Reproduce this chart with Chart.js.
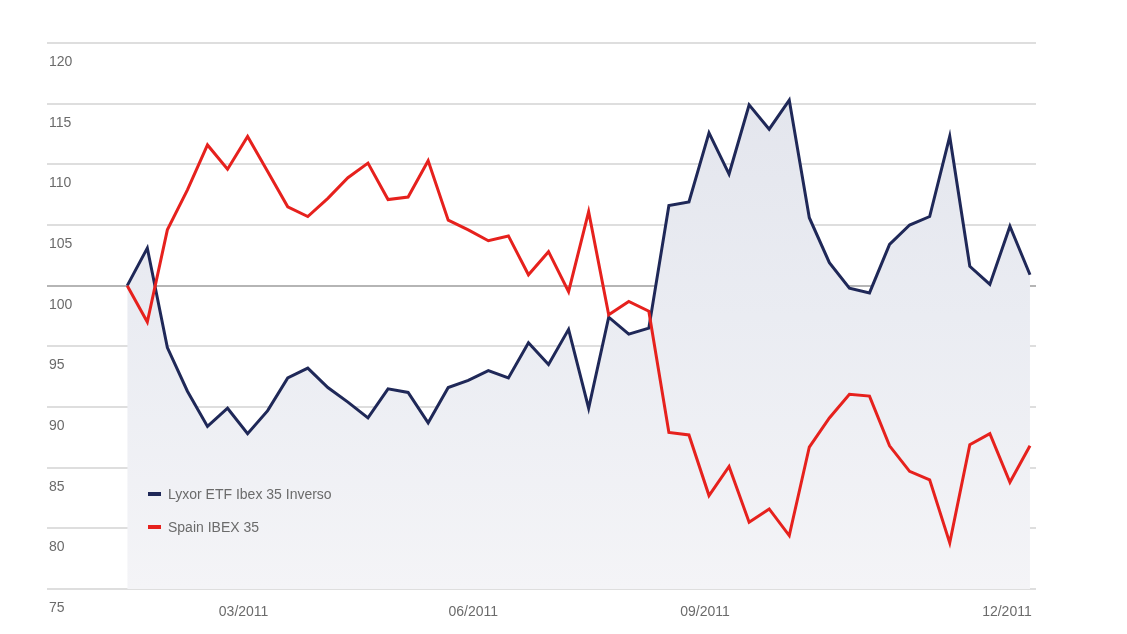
<!DOCTYPE html>
<html>
<head>
<meta charset="utf-8">
<script src="https://cdn.jsdelivr.net/npm/chart.js@4.4.1/dist/chart.umd.min.js"></script>
<style>
  html, body { margin: 0; padding: 0; background: #ffffff; }
  #wrap { width: 1127px; height: 634px; }
</style>
</head>
<body>
<div id="wrap"><canvas id="c" width="1127" height="634"></canvas></div>
<script>
// Observation number (roughly weekly, Jan–Dec 2011)
const observations = [0,1,2,3,4,5,6,7,8,9,10,11,12,13,14,15,16,17,18,19,20,21,22,23,24,25,26,27,28,29,30,31,32,33,34,35,36,37,38,39,40,41,42,43,44,45];

// Lyxor ETF Ibex 35 Inverso (rebased to 100)
const lyxorInverso = [100, 103.1, 94.9, 91.3, 88.4, 89.9, 87.8, 89.7, 92.4, 93.2,
  91.6, 90.4, 89.1, 91.5, 91.2, 88.7, 91.6, 92.2, 93.0, 92.4,
  95.3, 93.5, 96.4, 89.9, 97.4, 96.0, 96.5, 106.6, 106.9, 112.6,
  109.2, 114.9, 112.9, 115.3, 105.6, 101.9, 99.8, 99.4, 103.4, 105.0,
  105.7, 112.3, 101.6, 100.1, 104.9, 100.9];

// Spain IBEX 35 (rebased to 100)
const spainIbex = [100, 97.0, 104.6, 107.9, 111.6, 109.6, 112.3, 109.4, 106.5, 105.7,
  107.2, 108.9, 110.1, 107.1, 107.3, 110.3, 105.4, 104.6, 103.7, 104.1,
  100.9, 102.8, 99.5, 106.1, 97.6, 98.7, 97.9, 87.9, 87.7, 82.7,
  85.1, 80.5, 81.6, 79.4, 86.7, 89.1, 91.05, 90.9, 86.8, 84.7,
  84.0, 78.8, 86.9, 87.8, 83.8, 86.8];

// X-axis tick labels and where they sit (in observation units)
const xTickLabels = ['03/2011', '06/2011', '09/2011', '12/2011'];
const xTickAt = [5.8, 17.25, 28.8, 43.85];

// Y-axis range
const yMin = 75, yMax = 120, yStep = 5;

// Legend order (top to bottom)
const seriesNames = ['Lyxor ETF Ibex 35 Inverso', 'Spain IBEX 35'];

const NAVY = '#1f2858';
const RED = '#e6211d';
const FONT = '"Liberation Sans", Arial, sans-serif';

const toPoints = (vals) => vals.map((v, i) => ({ x: observations[i], y: v }));

const legendPlugin = {
  id: 'insideLegend',
  afterDraw(chart) {
    const { ctx, chartArea } = chart;
    const x0 = chartArea.left + 101;
    const rows = [chartArea.bottom - 95, chartArea.bottom - 62];
    ctx.save();
    ctx.font = '14px ' + FONT;
    ctx.textBaseline = 'middle';
    ctx.textAlign = 'left';
    seriesNames.forEach((name, i) => {
      const ds = chart.data.datasets.find((d) => d.label === name);
      const y = rows[i];
      ctx.fillStyle = ds.borderColor;
      ctx.fillRect(x0, y - 2, 13, 4);
      ctx.fillStyle = '#6b6b6b';
      ctx.fillText(ds.label, x0 + 20, y + 1);
    });
    ctx.restore();
  }
};

const ctx = document.getElementById('c').getContext('2d');
new Chart(ctx, {
  type: 'line',
  data: {
    datasets: [
      {
        label: seriesNames[1],
        data: toPoints(spainIbex),
        borderColor: RED,
        borderWidth: 3,
        pointRadius: 0,
        tension: 0,
        fill: false
      },
      {
        label: seriesNames[0],
        data: toPoints(lyxorInverso),
        borderColor: NAVY,
        borderWidth: 3,
        pointRadius: 0,
        tension: 0,
        fill: 'start',
        backgroundColor: (c) => {
          const area = c.chart.chartArea;
          if (!area) return 'rgba(230,232,238,0.6)';
          const g = c.chart.ctx.createLinearGradient(0, area.top, 0, area.bottom);
          g.addColorStop(0, '#e2e4ec');
          g.addColorStop(0.5, '#eaecf2');
          g.addColorStop(1, '#f4f4f7');
          return g;
        }
      }
    ]
  },
  options: {
    responsive: false,
    animation: false,
    layout: { padding: { left: 47, top: 43, right: 91, bottom: 0 } },
    plugins: {
      legend: { display: false },
      tooltip: { enabled: false },
      filler: { drawTime: 'beforeDatasetsDraw' }
    },
    scales: {
      x: {
        type: 'linear',
        min: -4,
        max: 45.3,
        grid: { display: false, drawTicks: false },
        border: { display: false },
        afterBuildTicks: (scale) => {
          scale.ticks = xTickAt.map((v) => ({ value: v }));
        },
        afterFit: (scale) => { scale.height = 45; },
        ticks: {
          autoSkip: false,
          maxRotation: 0,
          padding: 15,
          color: '#6b6b6b',
          font: { family: FONT, size: 14 },
          callback: (value, index) => xTickLabels[index]
        }
      },
      y: {
        type: 'linear',
        min: yMin,
        max: yMax,
        afterFit: (scale) => { scale.width = 0; },
        grid: {
          drawTicks: false,
          lineWidth: 2,
          color: (c) => (c.tick && c.tick.value === 100 ? '#b5b5b5' : '#dedede')
        },
        border: { display: false },
        ticks: {
          stepSize: yStep,
          mirror: true,
          padding: 2,
          labelOffset: 19,
          color: '#6b6b6b',
          font: { family: FONT, size: 14 }
        }
      }
    }
  },
  plugins: [legendPlugin]
});
</script>
</body>
</html>
